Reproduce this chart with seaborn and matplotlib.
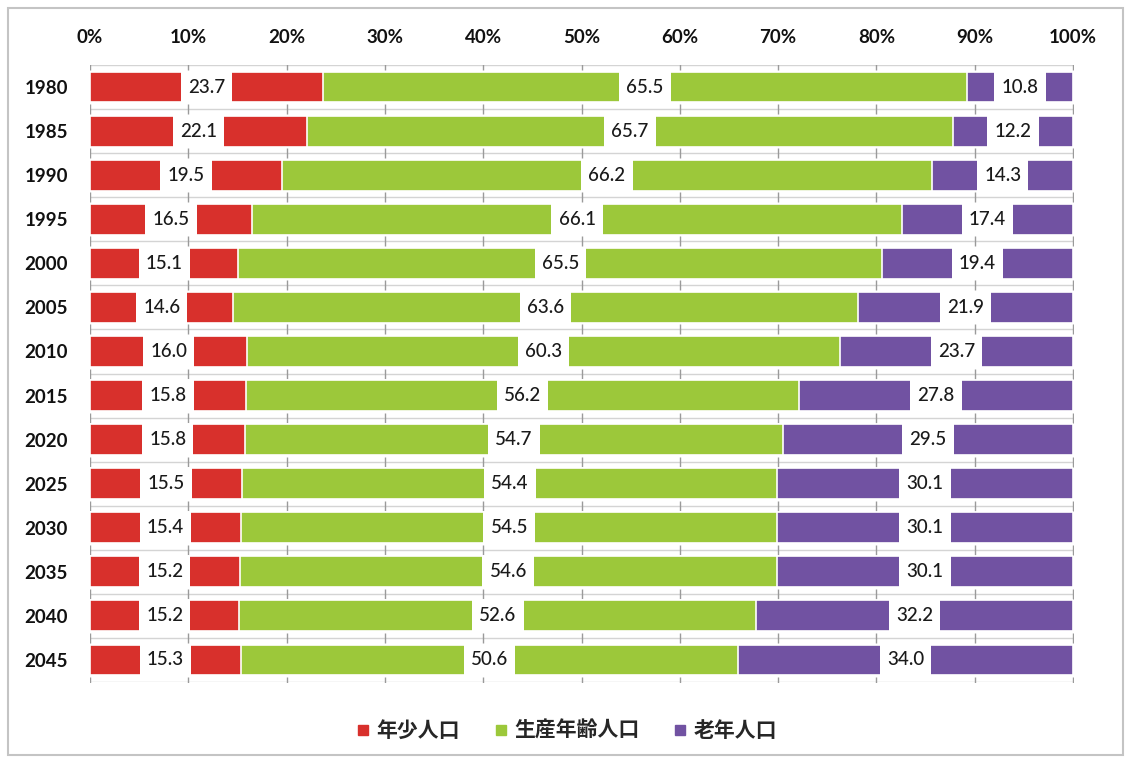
import numpy as np
import pandas as pd
import matplotlib
matplotlib.use("Agg")
import matplotlib.pyplot as plt
from matplotlib.lines import Line2D
from matplotlib.patches import Rectangle
import seaborn as sns

years = ["1980", "1985", "1990", "1995", "2000", "2005", "2010",
         "2015", "2020", "2025", "2030", "2035", "2040", "2045"]
young = [23.7, 22.1, 19.5, 16.5, 15.1, 14.6, 16.0, 15.8, 15.8, 15.5, 15.4, 15.2, 15.2, 15.3]
working = [65.5, 65.7, 66.2, 66.1, 65.5, 63.6, 60.3, 56.2, 54.7, 54.4, 54.5, 54.6, 52.6, 50.6]
elderly = [10.8, 12.2, 14.3, 17.4, 19.4, 21.9, 23.7, 27.8, 29.5, 30.1, 30.1, 30.1, 32.2, 34.0]
series_names = ["年少人口", "生産年齢人口", "老年人口"]
colors = ["#D8302C", "#9CC83A", "#7152A2"]
xticks = [0, 10, 20, 30, 40, 50, 60, 70, 80, 90, 100]

sns.set_theme(style="white")
plt.rcParams["font.family"] = ["Lato", "Noto Sans CJK JP", "DejaVu Sans"]

df = pd.DataFrame({"year": years, "young": young, "working": working, "elderly": elderly})
tot = df[["young", "working", "elderly"]].sum(axis=1)
df["p1"] = df["young"] / tot * 100
df["p2"] = df["working"] / tot * 100
df["p3"] = df["elderly"] / tot * 100
df["c1"] = df["p1"]
df["c2"] = df["p1"] + df["p2"]
df["c3"] = df["c2"] + df["p3"]

fig = plt.figure(figsize=(11.33, 7.6), dpi=100)
ax = fig.add_axes([90/1133, 1-682/760, (1073-90)/1133, (682-65)/760])

for col, color in zip(["c3", "c2", "c1"], colors[::-1]):
    sns.barplot(data=df, x=col, y="year", order=years, orient="h", color=color,
                width=0.7, edgecolor="white", linewidth=1.2, ax=ax, zorder=2,
                saturation=1)

# labels
for i, row in df.iterrows():
    starts = [0, row["c1"], row["c2"]]
    widths = [row["p1"], row["p2"], row["p3"]]
    vals = [row["young"], row["working"], row["elderly"]]
    for s, w, v in zip(starts, widths, vals):
        ax.text(s + w/2, i, f"{v:.1f}", ha="center", va="center", fontsize=13.5,
                fontweight="medium", color="#1a1a1a", zorder=5,
                bbox=dict(boxstyle="square,pad=0.38", fc="white", ec="none"))

# row boundary lines with ticks
bounds = np.arange(-0.5, len(years), 1.0)
ax.hlines(bounds, 0, 100, color="#d4d4d4", lw=1, zorder=1)
for b in bounds:
    ax.plot(xticks, [b]*len(xticks), ls="none", marker="|", ms=7, mew=1,
            color="#9a9a9a", zorder=1)

ax.set_xlim(0, 100)
ax.set_ylim(len(years)-0.5, -0.5)
ax.set_xticks(xticks)
ax.set_xticklabels([f"{t}%" for t in xticks])
ax.xaxis.tick_top()
ax.tick_params(axis="x", length=0, pad=14, labelsize=13.5)
ax.tick_params(axis="y", length=0, pad=16, labelsize=13.5)
for lab in ax.get_xticklabels() + ax.get_yticklabels():
    lab.set_fontweight("bold")
    lab.set_color("#111111")
ax.set_xlabel("")
ax.set_ylabel("")
for sp in ax.spines.values():
    sp.set_visible(False)

handles = [Line2D([0], [0], marker="s", ls="none", color=c, markersize=7.5) for c in colors]
leg = fig.legend(handles, series_names, loc="center", bbox_to_anchor=(0.5, 1-731/760),
                 ncol=3, frameon=False, handlelength=0.7, handletextpad=0.3,
                 columnspacing=1.6, prop={"size": 15, "weight": "bold"})

fig.patches.append(Rectangle((8/1133, 1-755/760), (1123-8)/1133, (755-8)/760,
                             transform=fig.transFigure, fill=False,
                             ec="#c4c4c4", lw=1.5))

fig.savefig("out.png", dpi=100)
